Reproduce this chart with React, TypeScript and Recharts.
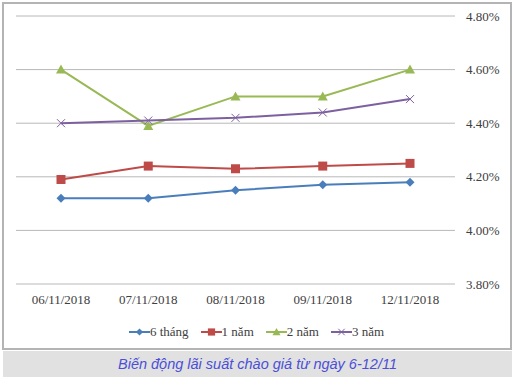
import React from "react";
import { LineChart, Line, XAxis, YAxis, CartesianGrid, Legend } from "recharts";

const dates = ["06/11/2018", "07/11/2018", "08/11/2018", "09/11/2018", "12/11/2018"];
const sixMonths = [4.12, 4.12, 4.15, 4.17, 4.18];
const oneYear = [4.19, 4.24, 4.23, 4.24, 4.25];
const twoYears = [4.6, 4.39, 4.5, 4.5, 4.6];
const threeYears = [4.4, 4.41, 4.42, 4.44, 4.49];
const yTicks = [3.8, 4.0, 4.2, 4.4, 4.6, 4.8];

const data = dates.map((d, i) => ({
  date: d,
  m6: sixMonths[i],
  y1: oneYear[i],
  y2: twoYears[i],
  y3: threeYears[i],
}));

const SERIF = "'Times New Roman', 'Liberation Serif', serif";

const SERIES = [
  { key: "m6", name: "6 tháng", color: "#4a7ebb", shape: "diamond" },
  { key: "y1", name: "1 năm", color: "#be4b48", shape: "square" },
  { key: "y2", name: "2 năm", color: "#98b954", shape: "triangle" },
  { key: "y3", name: "3 năm", color: "#7d60a0", shape: "cross" },
];

const Marker = ({ shape, color, cx, cy, s = 1 }: { shape: string; color: string; cx: number; cy: number; s?: number }) => {
  if (shape === "diamond") {
    const r = 4.5 * s;
    return <path d={`M${cx},${cy - r}L${cx + r},${cy}L${cx},${cy + r}L${cx - r},${cy}Z`} fill={color} />;
  }
  if (shape === "square") {
    const r = 4.5 * s;
    return <rect x={cx - r} y={cy - r} width={2 * r} height={2 * r} fill={color} />;
  }
  if (shape === "triangle") {
    const r = 5 * s;
    return <path d={`M${cx},${cy - r}L${cx + r},${cy + r * 0.8}L${cx - r},${cy + r * 0.8}Z`} fill={color} />;
  }
  const r = 4 * s;
  return (
    <path
      d={`M${cx - r},${cy - r}L${cx + r},${cy + r}M${cx + r},${cy - r}L${cx - r},${cy + r}`}
      stroke={color}
      strokeWidth={1}
      fill="none"
    />
  );
};

const makeDot = (shape: string, color: string) => (props: any) => {
  const { cx, cy, index } = props;
  if (cx == null || cy == null) return <g key={index} />;
  return <Marker key={index} shape={shape} color={color} cx={cx} cy={cy} />;
};

const renderLegend = () => (
  <div
    style={{
      display: "flex",
      justifyContent: "center",
      gap: 12,
      fontFamily: SERIF,
      fontSize: 13,
      color: "#404040",
    }}
  >
    {SERIES.map((s) => (
      <div key={s.key} style={{ display: "flex", alignItems: "center" }}>
        <svg width={21} height={12}>
          <line x1={0} y1={6} x2={21} y2={6} stroke={s.color} strokeWidth={2} />
          <Marker shape={s.shape} color={s.color} cx={10.5} cy={6} s={0.8} />
        </svg>
        <span>{s.name}</span>
      </div>
    ))}
  </div>
);

export default function App() {
  return (
    <div style={{ position: "absolute", left: 0, top: 0, width: 513, height: 377, background: "#fff" }}>
      <div
        style={{
          position: "absolute",
          left: 2,
          top: 2,
          width: 506,
          height: 344,
          border: "2px solid #b4b4b4",
        }}
      />
      <div style={{ position: "absolute", left: 4, top: 4 }}>
        <LineChart width={505} height={344} data={data} margin={{ top: 12, right: 0, left: 12, bottom: 0 }}>
          <CartesianGrid vertical={false} stroke="#b8b8b8" strokeWidth={1} />
          <XAxis
            dataKey="date"
            axisLine={false}
            tickLine={false}
            tickSize={0}
            tickMargin={11}
            height={34}
            padding={{ left: 45, right: 45 }}
            tick={{ fontFamily: SERIF, fontSize: 13, fill: "#404040" }}
            interval={0}
          />
          <YAxis
            orientation="right"
            domain={[3.8, 4.8]}
            ticks={yTicks}
            width={54}
            axisLine={false}
            tickLine={false}
            tickSize={0}
            tickMargin={11}
            tickFormatter={(v: number) => `${v.toFixed(2)}%`}
            tick={{ fontFamily: SERIF, fontSize: 13, fill: "#404040", textAnchor: "start" }}
          />
          <Legend height={30} content={renderLegend} wrapperStyle={{ top: 320, left: 0, width: 505 }} />
          {SERIES.map((s) => (
            <Line
              key={s.key}
              dataKey={s.key}
              name={s.name}
              stroke={s.color}
              strokeWidth={2}
              dot={makeDot(s.shape, s.color)}
              activeDot={false}
              isAnimationActive={false}
            />
          ))}
        </LineChart>
      </div>
      <div
        style={{
          position: "absolute",
          left: 3,
          top: 351,
          width: 509,
          height: 26,
          background: "#e1e1e1",
          display: "flex",
          alignItems: "center",
          justifyContent: "center",
          fontFamily: "'Liberation Sans', Arial, sans-serif",
          fontStyle: "italic",
          fontSize: 14.5,
          color: "#4b4fd8",
        }}
      >
        Biến động lãi suất chào giá từ ngày 6-12/11
      </div>
    </div>
  );
}
